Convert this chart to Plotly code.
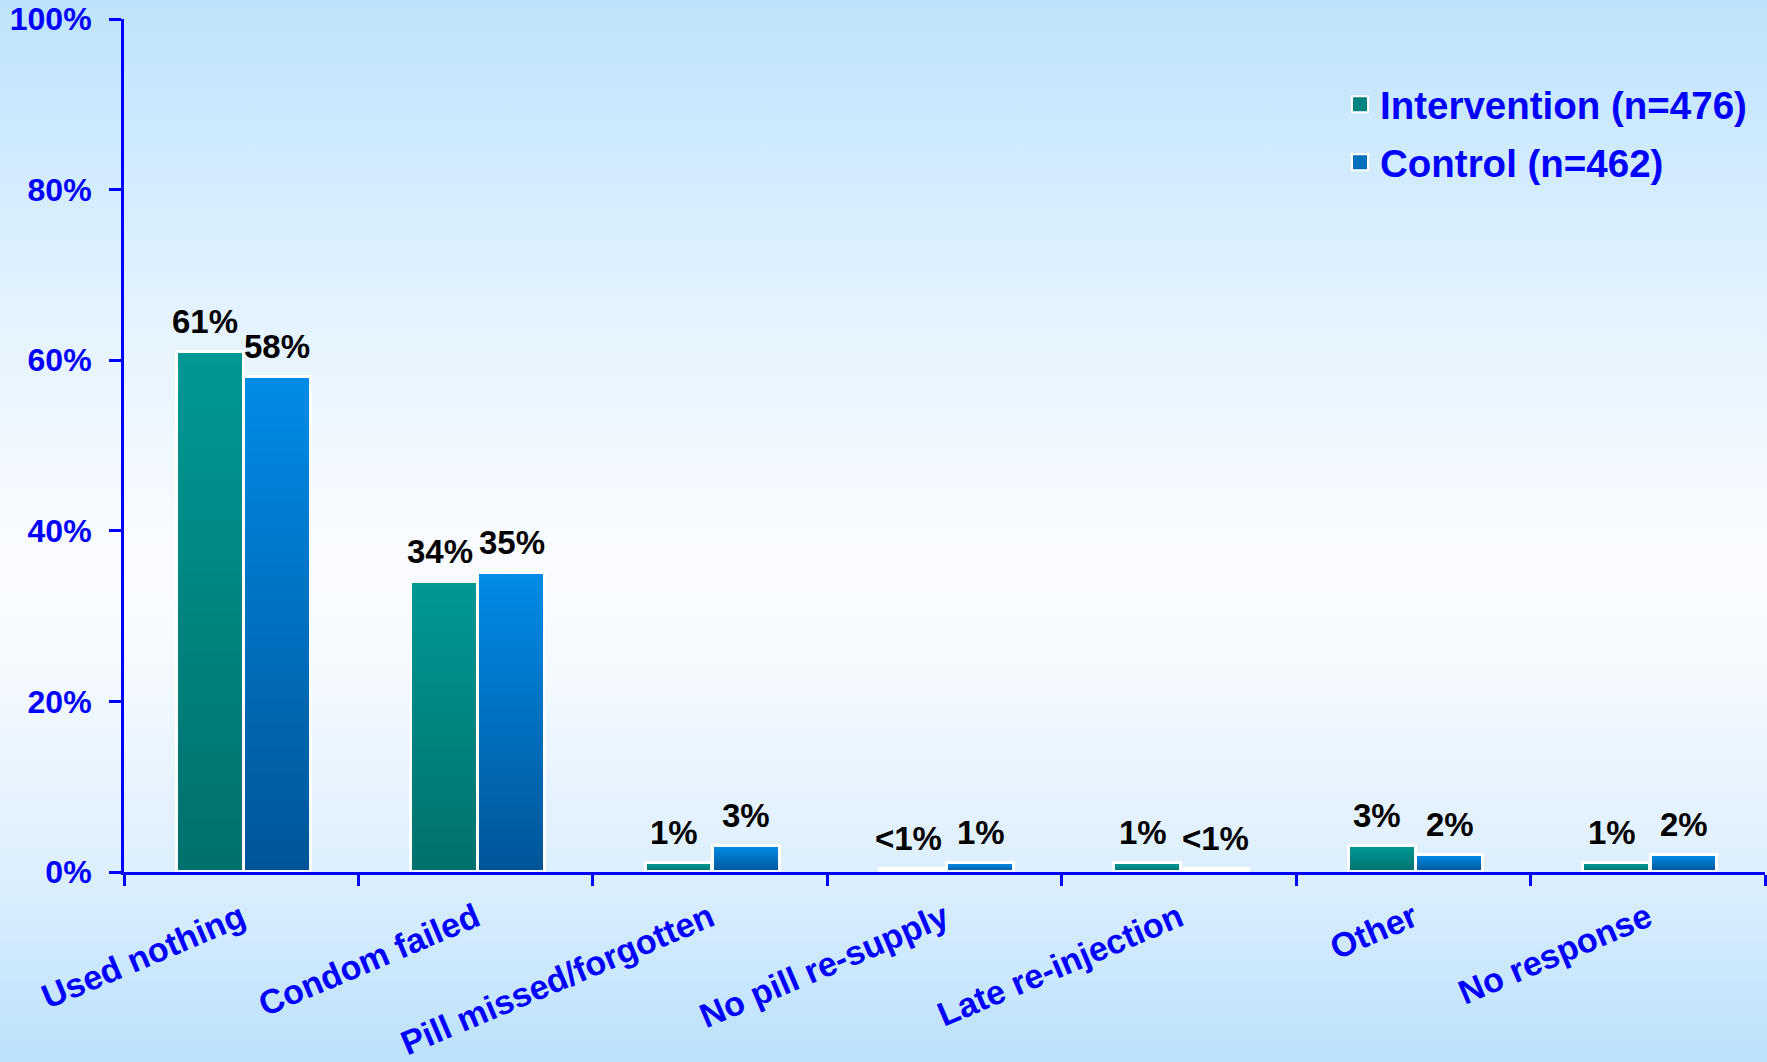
import base64
import plotly.graph_objects as go

# Reasons for pregnancy / contraceptive failure, by study arm (% of women)
categories = ["Used nothing", "Condom failed", "Pill missed/forgotten",
              "No pill re-supply", "Late re-injection", "Other", "No response"]
intervention = [61, 34, 1, 0.4, 1, 3, 1]
control = [58, 35, 3, 1, 0.4, 2, 2]
intervention_labels = ["61%", "34%", "1%", "<1%", "1%", "3%", "1%"]
control_labels = ["58%", "35%", "3%", "1%", "<1%", "2%", "2%"]
series_names = ["Intervention (n=476)", "Control (n=462)"]
y_ticks = [0, 20, 40, 60, 80, 100]

W, H = 1767, 1062
M_L, M_R, M_T, M_B = 124, 2, 19, 190
BLUE = "#0000FF"
FONT = "Liberation Sans, Arial, sans-serif"

BAR_W = 0.285
OFFSETS = [-0.275, 0.012]
LABEL_XSHIFT = [-5, 0]
# light (top) and dark (bottom) shade for each arm's vertical gradient
SHADES = [((0, 152, 148), (0, 112, 108)), ((0, 139, 230), (0, 84, 150))]
LAYERS = 40


def mix(c1, c2, t):
    return "rgb(%d,%d,%d)" % tuple(round(a + (b - a) * t) for a, b in zip(c1, c2))


fig = go.Figure()

for values, name, offset, (top, bottom) in zip(
        [intervention, control], series_names, OFFSETS, SHADES):
    # nested layers drawn tallest first give each bar a light-to-dark fade
    for k in range(LAYERS, 0, -1):
        frac = k / LAYERS
        fig.add_trace(go.Bar(
            x=categories, y=[v * frac for v in values],
            width=BAR_W, offset=offset,
            marker=dict(color=mix(bottom, top, frac), line=dict(width=0)),
            showlegend=False, hoverinfo="skip",
        ))
    # white outline drawn over the fade
    fig.add_trace(go.Bar(
        x=categories, y=values, width=BAR_W, offset=offset, name=name,
        marker=dict(color="rgba(0,0,0,0)", line=dict(color="white", width=3)),
        showlegend=False,
    ))
    # legend swatch
    fig.add_trace(go.Scatter(
        x=[None], y=[None], mode="markers", name=name, legendgroup=name,
        marker=dict(symbol="square", size=16, color=mix(bottom, top, 0.5),
                    line=dict(color="white", width=2)),
        showlegend=True,
    ))

annotations = []
for i in range(len(categories)):
    for values, labels, offset, dx in (
            (intervention, intervention_labels, OFFSETS[0], LABEL_XSHIFT[0]),
            (control, control_labels, OFFSETS[1], LABEL_XSHIFT[1])):
        annotations.append(dict(
            x=i + offset + BAR_W / 2, y=values[i], xref="x", yref="y",
            text=labels[i], showarrow=False, yanchor="bottom",
            yshift=10, xshift=dx,
            font=dict(family=FONT, size=33, color="black", weight="bold"),
        ))

# page background: pale blue fading to near-white through the middle
svg = (
    f'<svg xmlns="http://www.w3.org/2000/svg" width="{W}" height="{H}" '
    f'preserveAspectRatio="none"><defs><linearGradient id="g" x1="0" y1="0" x2="0" y2="1">'
    '<stop offset="0" stop-color="#BDE3FC"/>'
    '<stop offset="0.30" stop-color="#E4F3FE"/>'
    '<stop offset="0.52" stop-color="#FAFCFF"/>'
    '<stop offset="0.62" stop-color="#F6FAFF"/>'
    '<stop offset="0.82" stop-color="#DDEFFD"/>'
    '<stop offset="1" stop-color="#BBE1FB"/>'
    f'</linearGradient></defs><rect width="{W}" height="{H}" fill="url(#g)"/></svg>'
)
bg_src = "data:image/svg+xml;base64," + base64.b64encode(svg.encode()).decode()
pw, ph = W - M_L - M_R, H - M_T - M_B

fig.update_layout(
    width=W, height=H,
    margin=dict(l=M_L, r=M_R, t=M_T, b=M_B, pad=0, autoexpand=False),
    paper_bgcolor="rgba(0,0,0,0)", plot_bgcolor="rgba(0,0,0,0)",
    barmode="overlay", bargap=0,
    images=[dict(source=bg_src, xref="paper", yref="paper",
                 x=-M_L / pw, y=1 + M_T / ph, sizex=W / pw, sizey=H / ph,
                 xanchor="left", yanchor="top", sizing="stretch", layer="below")],
    annotations=annotations,
    legend=dict(x=0.741, y=0.937, xanchor="left", yanchor="top",
                bgcolor="rgba(0,0,0,0)", traceorder="grouped", tracegroupgap=5,
                font=dict(family=FONT, size=38.5, color=BLUE, weight="bold"),
                itemwidth=30),
    showlegend=True,
    xaxis=dict(
        type="category", categoryorder="array", categoryarray=categories,
        range=[-0.5, len(categories) - 0.5], automargin=False,
        showline=True, linecolor=BLUE, linewidth=3,
        ticks="outside", tickson="boundaries", ticklen=11, tickwidth=3, tickcolor=BLUE,
        tickangle=-23, ticklabelstandoff=10,
        tickfont=dict(family=FONT, size=34, color=BLUE, weight="bold"),
        showgrid=False, zeroline=False, fixedrange=True,
    ),
    yaxis=dict(
        range=[0, 100], tickvals=y_ticks, ticktext=[f"{v}%" for v in y_ticks],
        automargin=False,
        showline=True, linecolor=BLUE, linewidth=3,
        ticks="outside", ticklen=12, tickwidth=3, tickcolor=BLUE,
        ticklabelstandoff=11,
        tickfont=dict(family=FONT, size=32, color=BLUE, weight="bold"),
        showgrid=False, zeroline=False, fixedrange=True,
    ),
)

fig.write_html("out.html", config={"displayModeBar": False})
